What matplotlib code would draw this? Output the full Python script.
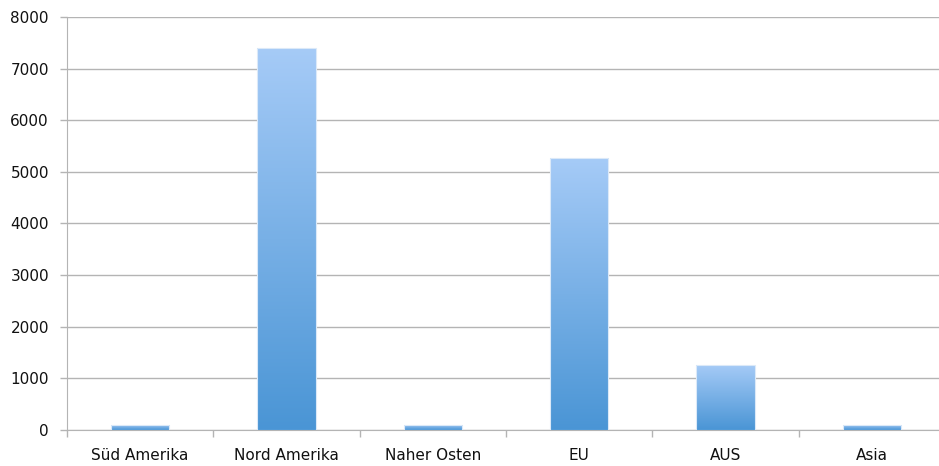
import numpy as np
import matplotlib
matplotlib.use("Agg")
import matplotlib.pyplot as plt
from matplotlib.colors import LinearSegmentedColormap

categories = ["Süd Amerika", "Nord Amerika", "Naher Osten", "EU", "AUS", "Asia"]
values = [100, 7400, 100, 5270, 1260, 100]
y_ticks = [0, 1000, 2000, 3000, 4000, 5000, 6000, 7000, 8000]

W, H = 939, 466
fig = plt.figure(figsize=(W / 100, H / 100), dpi=100)
ax = fig.add_axes([67 / W, 36 / H, (945 - 67) / W, (430 - 17) / H])

grid_col = "#b4b4b4"
x = np.arange(len(categories))
bars = ax.bar(x, values, width=0.4, color="none", zorder=3)

cmap = LinearSegmentedColormap.from_list("bar", ["#4a95d5", "#a6cbf7"])
grad = np.linspace(0, 1, 256).reshape(-1, 1)
for b in bars:
    x0, y0 = b.get_x(), b.get_y()
    w, h = b.get_width(), b.get_height()
    im = ax.imshow(grad, cmap=cmap, origin="lower", aspect="auto",
                   extent=(x0, x0 + w, y0, y0 + h), zorder=3,
                   interpolation="bilinear")
    im.set_clip_path(b)
    # faint light rim around each bar
    b.set_edgecolor("#dbe9f8")
    b.set_linewidth(0.8)
    b.set_zorder(4)

ax.set_xlim(-0.5, len(categories) - 0.5)
ax.set_ylim(0, 8000)
ax.set_yticks(y_ticks)
ax.set_yticklabels([str(t) for t in y_ticks])
ax.yaxis.grid(True, color=grid_col, linewidth=1.0, zorder=0)
ax.set_axisbelow(True)

# category labels centred on bars, tick marks on slot boundaries
ax.set_xticks(x)
ax.set_xticklabels(categories)
ax.set_xticks(np.arange(len(categories) + 1) - 0.5, minor=True)
ax.tick_params(axis="x", which="major", length=0, pad=13, labelsize=11,
               labelcolor="#111111")
ax.tick_params(axis="x", which="minor", length=5, color=grid_col, width=1)
ax.tick_params(axis="y", length=5, color=grid_col, width=1, pad=8, labelsize=11,
               labelcolor="#111111")

for side in ["top", "right"]:
    ax.spines[side].set_visible(False)
ax.spines["left"].set_color(grid_col)
ax.spines["bottom"].set_color(grid_col)

fig.savefig("out.png", dpi=100)
